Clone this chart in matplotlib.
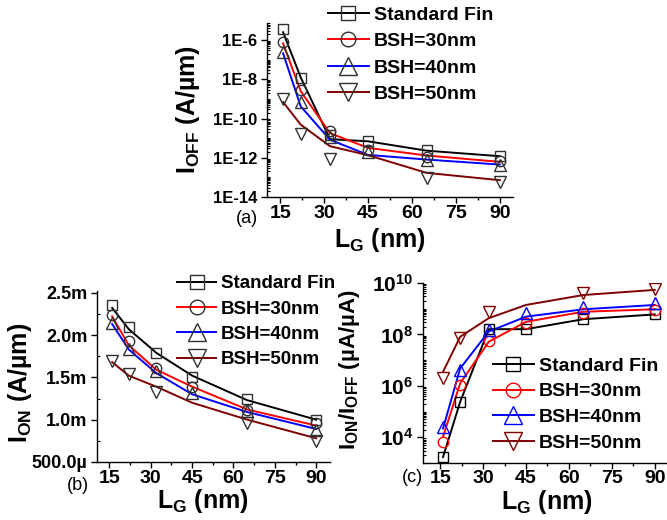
import matplotlib
matplotlib.use('Agg')
import matplotlib.pyplot as plt
import numpy as np
from matplotlib.lines import Line2D
from matplotlib.ticker import FixedLocator, FixedFormatter, LogLocator, MultipleLocator, NullFormatter

plt.rcParams['font.family'] = ['Liberation Sans', 'DejaVu Sans']
plt.rcParams['font.weight'] = 'bold'
plt.rcParams['mathtext.fontset'] = 'custom'
plt.rcParams['mathtext.rm'] = 'Liberation Sans:bold'
plt.rcParams['mathtext.bf'] = 'Liberation Sans:bold'
plt.rcParams['mathtext.it'] = 'Liberation Sans:bold'
plt.rcParams['mathtext.default'] = 'rm'

W, H = 667, 520

# gate lengths (nm); the 50 nm BSH device has no 45 nm sample
LG = [16, 22, 32, 45, 65, 90]
LG_50 = [16, 22, 32, 65, 90]
X_TICKS = [15, 30, 45, 60, 75, 90]

SERIES = ['Standard Fin', 'BSH=30nm', 'BSH=40nm', 'BSH=50nm']
COLORS = ['#000000', '#ff0000', '#0000ff', '#800000']
MARKERS = ['s', 'o', '^', 'v']
MSIZE = [7, 7.5, 9, 9]

# (a) off-state current, A/um: simulated points and fitted trend
ioff_std = [3.6e-6, 1.2e-8, 1.5e-11, 7e-12, 2.5e-12, 1.2e-12]
ioff_30 = [8e-7, 2.8e-9, 2.2e-11, 2.6e-12, 1.1e-12, 7e-13]
ioff_40 = [2.4e-7, 6.8e-10, 1.2e-11, 2e-12, 8e-13, 4.5e-13]
ioff_50 = [1e-9, 1.6e-11, 9e-13, 9.5e-14, 5.8e-14]
ioff_std_fit = [2.5e-6, 1.26e-8, 8.9e-12, 6.9e-12, 2.3e-12, 1.2e-12]
ioff_30_fit = [6.8e-7, 2.5e-9, 1.8e-11, 3.2e-12, 1.3e-12, 6.2e-13]
ioff_40_fit = [2.1e-7, 4.2e-10, 8.3e-12, 1.4e-12, 8.1e-13, 4.5e-13]
ioff_50_fit = [6.9e-10, 4.9e-11, 3.9e-12, 1.35e-12, 1.7e-13, 7.2e-14]
ioff_ticks = [1e-14, 1e-12, 1e-10, 1e-8, 1e-6]
ioff_ticklabels = ['1E-14', '1E-12', '1E-10', '1E-8', '1E-6']

# (b) on-state current, A/um
ion_std = [2.35e-3, 2.09e-3, 1.79e-3, 1.51e-3, 1.24e-3, 1.0e-3]
ion_30 = [2.24e-3, 1.93e-3, 1.61e-3, 1.39e-3, 1.12e-3, 0.96e-3]
ion_40 = [2.14e-3, 1.83e-3, 1.57e-3, 1.32e-3, 1.10e-3, 0.88e-3]
ion_50 = [1.69e-3, 1.54e-3, 1.33e-3, 0.96e-3, 0.75e-3]
ion_std_fit = [2.32e-3, 2.07e-3, 1.79e-3, 1.52e-3, 1.23e-3, 1.0e-3]
ion_30_fit = [2.22e-3, 1.88e-3, 1.59e-3, 1.39e-3, 1.12e-3, 0.93e-3]
ion_40_fit = [2.13e-3, 1.83e-3, 1.55e-3, 1.30e-3, 1.09e-3, 0.89e-3]
ion_50_fit = [1.68e-3, 1.52e-3, 1.39e-3, 1.20e-3, 1.0e-3, 0.78e-3]
ion_ticks = [0.5e-3, 1.0e-3, 1.5e-3, 2.0e-3, 2.5e-3]
ion_ticklabels = ['500.0\u00b5', '1.0m', '1.5m', '2.0m', '2.5m']

# (c) on/off ratio
ratio_std = [1.7e3, 2.4e5, 1.6e8, 1.6e8, 3.9e8, 6.0e8]
ratio_30 = [6.6e3, 1.07e6, 5.6e7, 2.7e8, 6.6e8, 8.9e8]
ratio_40 = [2.6e4, 4.1e6, 1.5e8, 6.6e8, 1.2e9, 1.6e9]
ratio_50 = [1.95e6, 7.1e7, 7.6e8, 4.0e9, 5.6e9]
ratio_std_fit = [1.7e3, 2.4e5, 1.6e8, 1.6e8, 3.9e8, 6.0e8]
ratio_30_fit = [1.05e4, 1.26e6, 5.2e7, 3.1e8, 7.6e8, 9.5e8]
ratio_40_fit = [2.2e4, 4.8e6, 1.3e8, 4.9e8, 9.5e8, 1.4e9]
ratio_50_fit = [3.5e6, 8.1e7, 4.3e8, 1.4e9, 3.4e9, 5.4e9]
ratio_ticks = [1e4, 1e6, 1e8, 1e10]
ratio_ticklabels = ['$10^{4}$', '$10^{6}$', '$10^{8}$', '$10^{10}$']


def px_axes(fig, left, right, top, bottom):
    return fig.add_axes([left / W, 1 - bottom / H, (right - left) / W, (bottom - top) / H])


def style_axes(ax, xlim, xfs=14, yfs=12, xpad=2):
    ax.set_xlim(*xlim)
    for side in ('top', 'right'):
        ax.spines[side].set_visible(False)
    for side in ('left', 'bottom'):
        ax.spines[side].set_linewidth(1.0)
    ax.xaxis.set_major_locator(FixedLocator(X_TICKS))
    ax.xaxis.set_minor_locator(MultipleLocator(7.5))
    ax.tick_params(axis='x', which='major', direction='out', length=4, width=1, pad=xpad, labelsize=xfs)
    ax.tick_params(axis='x', which='minor', direction='out', length=2.5, width=1)
    ax.tick_params(axis='y', which='major', direction='out', length=4, width=1, pad=3, labelsize=yfs)
    ax.tick_params(axis='y', which='minor', direction='in', length=2.5, width=0.8)
    for lab in ax.get_xticklabels() + ax.get_yticklabels():
        lab.set_fontweight('bold')


def draw_series(ax, marks, fits, colored):
    for i, (m, f) in enumerate(zip(marks, fits)):
        xs = LG_50 if i == 3 else LG
        edge = COLORS[i] if colored else '#303030'
        ax.plot(LG, f, color=COLORS[i], lw=1.4, zorder=3)
        ax.plot(xs, m, ls='none', marker=MARKERS[i], ms=MSIZE[i], mfc='none',
                mec=edge, mew=1.0, zorder=4)


def add_legend(ax, fig, x, y, colored, fs, spacing):
    handles = []
    for i in range(4):
        edge = COLORS[i] if colored else '#303030'
        handles.append(Line2D([], [], color=COLORS[i], lw=1.4, marker=MARKERS[i],
                              ms=MSIZE[i] * 1.4, mfc='none', mec=edge, mew=1.0))
    ax.legend(handles, SERIES, loc='upper left', bbox_to_anchor=(x / W, 1 - y / H),
              bbox_transform=fig.transFigure, frameon=False, borderpad=0,
              borderaxespad=0, handlelength=2.1, handletextpad=0.25,
              labelspacing=spacing, prop={'size': fs, 'weight': 'bold'})


fig = plt.figure(figsize=(W / 100, H / 100), dpi=100, facecolor='white')

# (a) I_OFF vs L_G
ax_a = px_axes(fig, 267, 513, 23, 197)
draw_series(ax_a, [ioff_std, ioff_30, ioff_40, ioff_50],
            [ioff_std_fit, ioff_30_fit, ioff_40_fit, ioff_50_fit], False)
ax_a.set_yscale('log')
ax_a.set_ylim(1e-14, 10 ** -5.13)
ax_a.yaxis.set_major_locator(FixedLocator(ioff_ticks))
ax_a.yaxis.set_major_formatter(FixedFormatter(ioff_ticklabels))
ax_a.yaxis.set_minor_locator(LogLocator(base=10, subs=np.arange(1, 10), numticks=60))
ax_a.yaxis.set_minor_formatter(NullFormatter())
style_axes(ax_a, (10.5, 94.5), yfs=12)
add_legend(ax_a, fig, 328, 6, False, 14, 0.46)

# (b) I_ON vs L_G
ax_b = px_axes(fig, 97, 330, 291, 462)
draw_series(ax_b, [ion_std, ion_30, ion_40, ion_50],
            [ion_std_fit, ion_30_fit, ion_40_fit, ion_50_fit], False)
ax_b.set_ylim(0.5e-3, 2.52e-3)
ax_b.yaxis.set_major_locator(FixedLocator(ion_ticks))
ax_b.yaxis.set_major_formatter(FixedFormatter(ion_ticklabels))
ax_b.yaxis.set_minor_locator(MultipleLocator(0.25e-3))
style_axes(ax_b, (10.5, 95), yfs=13)
add_legend(ax_b, fig, 177, 275, False, 13.5, 0.44)

# (c) I_ON/I_OFF vs L_G
ax_c = px_axes(fig, 423, 669, 283, 463)
draw_series(ax_c, [ratio_std, ratio_30, ratio_40, ratio_50],
            [ratio_std_fit, ratio_30_fit, ratio_40_fit, ratio_50_fit], True)
ax_c.set_yscale('log')
ax_c.set_ylim(1e3, 1e10)
ax_c.yaxis.set_major_locator(FixedLocator(ratio_ticks))
ax_c.yaxis.set_major_formatter(FixedFormatter(ratio_ticklabels))
ax_c.yaxis.set_minor_locator(LogLocator(base=10, subs=np.arange(1, 10), numticks=60))
ax_c.yaxis.set_minor_formatter(NullFormatter())
style_axes(ax_c, (9, 95), yfs=15, xpad=1)
add_legend(ax_c, fig, 493, 357, True, 14, 0.42)

# axis titles and panel tags
xl = '$\\mathregular{L_G}$ (nm)'
fig.text(380 / W, 1 - 240 / H, xl, ha='center', va='center', fontsize=18, fontweight='bold')
fig.text(203 / W, 1 - 501 / H, xl, ha='center', va='center', fontsize=18, fontweight='bold')
fig.text(547 / W, 1 - 502 / H, xl, ha='center', va='center', fontsize=18, fontweight='bold')

fig.text(188 / W, 1 - 110 / H, 'I$_{\\mathregular{OFF}}$ (A/\u00b5m)', rotation=90,
         ha='center', va='center', fontsize=18, fontweight='bold')
fig.text(20 / W, 1 - 383 / H, 'I$_{\\mathregular{ON}}$ (A/\u00b5m)', rotation=90,
         ha='center', va='center', fontsize=18, fontweight='bold')
fig.text(350 / W, 1 - 370 / H, 'I$_{\\mathregular{ON}}$/I$_{\\mathregular{OFF}}$ (\u00b5A/\u00b5A)',
         rotation=90, ha='center', va='center', fontsize=16, fontweight='bold')

fig.text(247 / W, 1 - 218 / H, '(a)', ha='center', va='center', fontsize=13, fontweight='normal')
fig.text(78 / W, 1 - 485 / H, '(b)', ha='center', va='center', fontsize=13, fontweight='normal')
fig.text(412 / W, 1 - 478 / H, '(c)', ha='center', va='center', fontsize=13, fontweight='normal')

fig.savefig('out.png', dpi=100, facecolor='white')
